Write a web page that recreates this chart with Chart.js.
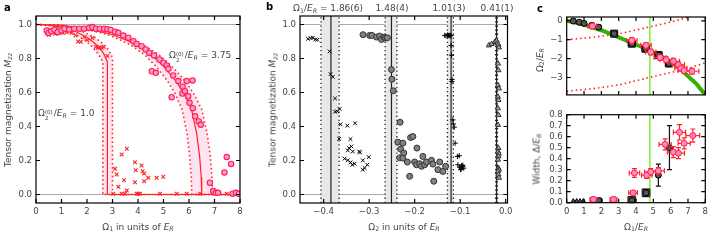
<!DOCTYPE html>
<html>
<head>
<meta charset="utf-8">
<script src="https://cdn.jsdelivr.net/npm/chart.js@4.4.1/dist/chart.umd.min.js"></script>
<style>
  body { margin: 0; background: #fff; }
  #wrap { position: relative; width: 720px; height: 240px; overflow: hidden; font-family: "DejaVu Sans"; color: #444; }
  canvas { position: absolute; }
  .t { position: absolute; white-space: nowrap; font-size: 9px; line-height: 1; }
  .rot { transform: translate(-50%, -50%) rotate(-90deg); }
  .ctr { transform: translate(-50%, -50%); }
  .ctrx { transform: translateX(-50%); }
  sub { font-size: 70%; vertical-align: -0.3em; line-height: 0; }
  .ss { display: inline-flex; flex-direction: column; font-size: 62%; line-height: 1.05; vertical-align: 0.4em; margin-right: 1px; }
  .lbl { position: absolute; font-weight: bold; color: #000; font-size: 10px; line-height: 1; }
</style>
</head>
<body>
<div id="wrap">
  <canvas id="ca" width="250" height="240" style="left:0;top:0"></canvas>
  <canvas id="cb" width="260" height="240" style="left:260px;top:0"></canvas>
  <canvas id="cc1" width="190" height="104" style="left:530px;top:0"></canvas>
  <canvas id="cc2" width="190" height="136" style="left:530px;top:104px"></canvas>

  <div class="lbl" style="left:4px;top:3px">a</div>
  <div class="lbl" style="left:266px;top:2px">b</div>
  <div class="lbl" style="left:537px;top:4px">c</div>

  <div class="t rot" style="left:8px;top:110px">Tensor magnetization <i>M</i><sub><i>zz</i></sub></div>
  <div class="t ctr" style="left:138px;top:227px">Ω<sub>1</sub> in units of <i>E</i><sub><i>R</i></sub></div>
  <div class="t" style="left:169px;top:51px">Ω<span class="ss"><span>(0)</span><span>2</span></span>/<i>E</i><sub><i>R</i></sub> = 3.75</div>
  <div class="t" style="left:38px;top:109px">Ω<span class="ss"><span>(0)</span><span>2</span></span>/<i>E</i><sub><i>R</i></sub> = 1.0</div>

  <div class="t rot" style="left:273px;top:110px">Tensor magnetization <i>M</i><sub><i>zz</i></sub></div>
  <div class="t ctr" style="left:404px;top:227px">Ω<sub>2</sub> in units of <i>E</i><sub><i>R</i></sub></div>
  <div class="t" style="left:293px;top:4px">Ω<sub>1</sub>/<i>E</i><sub><i>R</i></sub> = 1.86(6)</div>
  <div class="t ctrx" style="left:392px;top:4px">1.48(4)</div>
  <div class="t ctrx" style="left:449px;top:4px">1.01(3)</div>
  <div class="t ctrx" style="left:497px;top:4px">0.41(1)</div>

  <div class="t rot" style="left:540px;top:60px">Ω<sub>2</sub>/<i>E</i><sub><i>R</i></sub></div>
  <div class="t rot" style="left:537px;top:159px">Width, Δ/<i>E</i><sub><i>R</i></sub></div>
  <div class="t ctr" style="left:636px;top:227px">Ω<sub>1</sub>/<i>E</i><sub><i>R</i></sub></div>
</div>

<script>
// ---------- panel a : M_zz vs Omega1
const aCircX = [0.42,0.50,0.60,0.72,0.85,1.00,1.12,1.30,1.50,1.70,1.88,2.08,2.21,2.35,2.50,2.67,2.80,2.93,3.10,
  3.23,3.42,3.62,3.82,3.95,4.14,4.30,4.44,4.54,4.63,4.70,4.84,5.00,5.13,5.19,5.32,5.38,5.58,5.74,5.75,5.84,5.91,
  5.97,6.02,6.14,6.15,6.24,6.38,6.46,6.82,6.95,7.05,7.14,7.39,7.48,7.65,7.71,7.84,7.95];
const aCircY = [0.965,0.95,0.96,0.97,0.955,0.965,0.975,0.97,0.975,0.975,0.975,0.98,0.985,0.975,0.975,0.975,0.972,0.968,0.958,
  0.951,0.935,0.922,0.902,0.886,0.872,0.853,0.833,0.725,0.818,0.716,0.794,0.775,0.759,0.739,0.572,0.70,0.667,0.594,0.634,0.608,0.667,
  0.578,0.539,0.671,0.508,0.46,0.43,0.41,0.069,0.02,0.01,0.01,0.13,0.22,0.18,0.005,0.01,0.005];
const aCrossX = [0.42,0.50,0.62,0.75,0.90,1.05,1.20,1.40,1.55,1.65,1.76,1.90,2.02,2.21,2.35,2.42,2.50,2.58,2.65,2.80,
  3.03,3.10,3.16,3.23,3.36,3.36,3.45,3.49,3.56,3.56,3.88,3.91,3.88,3.95,4.01,4.08,4.14,4.18,4.24,4.24,4.40,4.73,
  4.86,4.99,5.52,5.91,6.43,7.48,7.74,7.87];
const aCrossY = [0.95,0.94,0.955,0.945,0.955,0.95,0.955,0.95,0.935,0.90,0.898,0.925,0.908,0.92,0.869,0.863,0.865,0.863,0.869,0.815,
  0.005,0.151,0.118,0.045,0.235,0.005,0.084,0.005,0.269,0.024,0.19,0.143,0.072,0.005,0.005,0.005,0.171,0.137,0.124,0.078,0.098,0.098,
  0.005,0.104,0.005,0.005,0.005,0.005,0.005,0.005];
const aFit375X = [0,1,2,3,3.5,4,4.5,5,5.5,5.8,6.1,6.3,6.42,6.48,6.5,8];
const aFit375Y = [1,0.995,0.975,0.94,0.91,0.875,0.825,0.755,0.665,0.595,0.5,0.36,0.22,0.1,0,0];
const aLo375X = [0,0.94,1.88,2.82,3.29,3.76,4.23,4.7,5.17,5.45,5.73,5.92,6.03,6.09,6.11,8];
const aHi375X = [0,1.07,2.13,3.2,3.73,4.26,4.79,5.33,5.86,6.18,6.5,6.71,6.84,6.9,6.92,8];
const aFit10X = [0,0.5,1,1.5,2,2.3,2.5,2.65,2.8,2.8,8];
const aFit10Y = [1,0.997,0.985,0.962,0.925,0.89,0.86,0.83,0.78,0,0];
const aLo10X = [0,0.5,1,1.5,1.9,2.2,2.45,2.62,2.62,8];
const aLo10Y = [1,0.993,0.975,0.945,0.91,0.87,0.825,0.78,0,0];
const aHi10X = [0,0.6,1.2,1.8,2.3,2.6,2.85,3.0,3.0,8];
const aHi10Y = [1,0.997,0.985,0.96,0.925,0.89,0.85,0.805,0,0];
const aXTicks = [0,1,2,3,4,5,6,7,8];
const mTicks = [0,0.2,0.4,0.6,0.8,1.0];
const mRange = [-0.05, 1.05];
const refLevels = [0, 1];

// ---------- panel b : M_zz vs Omega2
const bCrossX = [-0.4345,-0.4286,-0.4236,-0.4185,-0.414,-0.387,-0.385,-0.380,-0.375,-0.375,-0.370,-0.365,-0.363,-0.348,-0.331,
  -0.366,-0.341,-0.344,-0.339,-0.336,-0.347,-0.322,-0.320,-0.354,-0.347,-0.341,-0.337,-0.332,-0.314,-0.301,-0.314,-0.310,-0.304];
const bCrossY = [0.916,0.92,0.922,0.912,0.91,0.842,0.708,0.692,0.565,0.487,0.489,0.503,0.413,0.405,0.419,
  0.327,0.326,0.273,0.283,0.253,0.259,0.253,0.247,0.211,0.201,0.189,0.175,0.181,0.201,0.22,0.146,0.156,0.175];
const bCircX = [-0.3136,-0.299,-0.294,-0.284,-0.277,-0.273,-0.267,-0.264,-0.260,-0.251,-0.250,-0.247,-0.232,-0.237,-0.226,
  -0.231,-0.224,-0.233,-0.226,-0.216,-0.211,-0.209,-0.204,-0.195,-0.200,-0.196,-0.189,-0.185,-0.182,-0.178,-0.174,-0.163,
  -0.160,-0.158,-0.149,-0.145,-0.138,-0.132];
const bCircY = [0.94,0.936,0.936,0.926,0.932,0.912,0.926,0.92,0.922,0.735,0.678,0.61,0.425,0.308,0.302,
  0.267,0.244,0.216,0.214,0.191,0.107,0.335,0.341,0.273,0.191,0.175,0.181,0.166,0.224,0.175,0.191,0.201,
  0.179,0.078,0.146,0.191,0.136,0.166];
const bPlusX = [-0.134,-0.131,-0.128,-0.126,-0.124,-0.122,-0.120,-0.120,-0.119,-0.118,-0.118,-0.116,-0.115,-0.113,-0.111,
  -0.106,-0.102,-0.105,-0.101,-0.098,-0.095,-0.097,-0.092,-0.099,-0.094];
const bPlusY = [0.936,0.934,0.938,0.935,0.937,0.933,0.936,0.877,0.819,0.676,0.664,0.439,0.415,0.396,0.302,
  0.224,0.228,0.175,0.16,0.15,0.165,0.17,0.155,0.146,0.172];
const bTriX = [-0.037,-0.031,-0.024,-0.020,-0.018,-0.016,-0.015,-0.017,-0.016,-0.017,-0.015,-0.017,-0.016,-0.017,-0.016,
  -0.017,-0.016,-0.017,-0.015,-0.016,-0.017,-0.016,-0.015,-0.017,-0.016,-0.015];
const bTriY = [0.877,0.885,0.897,0.905,0.89,0.88,0.865,0.77,0.731,0.643,0.624,0.575,0.556,0.507,0.468,
  0.409,0.273,0.253,0.24,0.224,0.205,0.156,0.146,0.136,0.117,0.098];
const bCrit = [-0.384, -0.251, -0.120, -0.020];
const bCritLo = [-0.406, -0.265, -0.128, -0.022];
const bCritHi = [-0.366, -0.239, -0.115, -0.018];
const bXTicks = [-0.4,-0.3,-0.2,-0.1,0];
const bRange = [-0.452, 0.004];

// ---------- panel c : critical Omega2 and width vs Omega1
const cRange = [0, 8];
const cTopRange = [-3.92, 0.2];
const cTopTicks = [0,-1,-2,-3];
const cBotRange = [0, 0.8];
const cBotTicks = [0,0.1,0.2,0.3,0.4,0.5,0.6,0.7,0.8];
const cTheoX = [0,1,2,2.7,3.5,4.62,5.3,5.97,6.5,6.93,7.5,8];
const cTheoY = [0,-0.2,-0.5,-0.76,-1.07,-1.49,-1.8,-2.14,-2.5,-2.87,-3.35,-3.92];
const cUpX = [0,1.54,3.08,4.62,5.78,6.93,7.5];
const cUpY = [-1.0,-0.87,-0.68,-0.36,-0.12,0.16,0.33];
const cLowX = [0,1.54,3.08,4.62,5.78,6.93,8];
const cLowY = [-3.72,-3.59,-3.38,-3.03,-2.78,-2.54,-2.22];
const cTrans = 4.8;
const cTopBlkX = [0.38,0.73,1.0,1.45,1.85,2.74,3.76,4.55,5.3,5.9];
const cTopBlkY = [-0.01,-0.08,-0.14,-0.24,-0.34,-0.68,-1.21,-1.48,-1.81,-2.26];
const cTopBlkXe = [0.1,0.1,0.1,0.12,0.12,0.15,0.2,0.2,0.2,0.2];
const cTopBlkYe = [0.08,0.08,0.08,0.1,0.1,0.1,0.12,0.12,0.12,0.15];
const cTopRedX = [1.48,3.76,4.58,4.85,5.39,5.74,6.16,6.45,6.59,6.78,7.23];
const cTopRedY = [-0.28,-1.04,-1.3,-1.65,-1.94,-2.06,-2.14,-2.33,-2.51,-2.63,-2.67];
const cTopRedXe = [0.25,0.3,0.3,0.3,0.35,0.35,0.35,0.35,0.35,0.35,0.4];
const cTopRedYe = [0.15,0.15,0.15,0.15,0.15,0.15,0.15,0.15,0.15,0.15,0.15];
const cBotTriX = [0.38,0.58,0.77,0.96];
const cBotTriY = [0.01,0.01,0.01,0.01];
const cBotBlkX = [1.54,1.89,2.7,3.76,4.58,5.29,5.93];
const cBotBlkY = [0.02,0.02,0.02,0.02,0.09,0.25,0.5];
const cBotBlkXe = [0.1,0.1,0.1,0.1,0.1,0.1,0.1];
const cBotBlkYe = [0.01,0.01,0.01,0.02,0.03,0.1,0.2];
const cBotRedX = [1.54,2.7,3.83,3.91,4.62,4.85,5.29,5.68,6.16,6.45,6.51,6.78,7.28];
const cBotRedY = [0.03,0.03,0.09,0.27,0.25,0.28,0.29,0.53,0.46,0.45,0.64,0.54,0.61];
const cBotRedXe = [0.2,0.2,0.25,0.3,0.3,0.35,0.35,0.35,0.35,0.35,0.35,0.35,0.4];
const cBotRedYe = [0.02,0.02,0.02,0.04,0.03,0.03,0.03,0.05,0.05,0.05,0.07,0.05,0.06];

const FONT = 'DejaVu Sans';
const RED = '#ff2424';

const pts = (xs, ys) => xs.map((x, i) => ({x, y: ys[i]}));
const vline = (v, r) => [{x: v, y: r[0]}, {x: v, y: r[1]}];
const hline = (v, r) => [{x: r[0], y: v}, {x: r[1], y: v}];

function line(data, color, width, dash) {
  return {data, showLine: true, borderColor: color, borderWidth: width, borderDash: dash || [],
    pointRadius: 0, fill: false, tension: 0, clip: 0};
}
function area(data, color) {
  return {data, showLine: true, borderColor: 'rgba(0,0,0,0)', borderWidth: 0, backgroundColor: color,
    pointRadius: 0, fill: 'shape', tension: 0, clip: 0};
}
function marks(data, style, r, fill, edge, bw) {
  return {data, showLine: false, pointStyle: style, pointRadius: r, pointBackgroundColor: fill,
    pointBorderColor: edge, pointBorderWidth: bw};
}

function axis(range, ticks, fmt, size, labels) {
  return {
    type: 'linear', min: range[0], max: range[1],
    grid: {display: false, drawTicks: false},
    border: {display: false},
    ticks: {display: labels, font: {family: FONT, size: 8.5}, color: '#444', padding: 4,
      autoSkip: false, maxRotation: 0, callback: fmt},
    afterBuildTicks: s => { s.ticks = ticks.map(v => ({value: v})); },
    afterFit: s => { if (s.isHorizontal()) s.height = size; else s.width = size; }
  };
}

const minus = v => (v < 0 ? '\u2212' : '');
const fmt0 = v => minus(v) + Math.abs(v).toFixed(0);
const fmt1 = v => minus(v) + Math.abs(v).toFixed(1);

// black frame with inward ticks on all four sides
const frame = {
  id: 'frame',
  afterDraw(chart) {
    const {ctx, chartArea: {left, right, top, bottom}, scales: {x, y}} = chart;
    ctx.save();
    ctx.strokeStyle = '#000';
    ctx.lineWidth = 1.2;
    ctx.strokeRect(left, top, right - left, bottom - top);
    ctx.beginPath();
    x.ticks.forEach(t => {
      const p = x.getPixelForValue(t.value);
      ctx.moveTo(p, bottom); ctx.lineTo(p, bottom - 4);
      ctx.moveTo(p, top); ctx.lineTo(p, top + 4);
    });
    y.ticks.forEach(t => {
      const p = y.getPixelForValue(t.value);
      ctx.moveTo(left, p); ctx.lineTo(left + 4, p);
      ctx.moveTo(right, p); ctx.lineTo(right - 4, p);
    });
    ctx.stroke();
    ctx.restore();
  }
};

// error bars for datasets that carry errX / errY
const errorBars = {
  id: 'errorBars',
  beforeDatasetDraw(chart, args) {
    const ds = chart.data.datasets[args.index];
    if (!ds.errX) return;
    const {ctx, scales: {x, y}} = chart;
    ctx.save();
    ctx.strokeStyle = ds.errColor;
    ctx.lineWidth = 1.2;
    ctx.beginPath();
    ds.data.forEach((p, i) => {
      const px = x.getPixelForValue(p.x), py = y.getPixelForValue(p.y);
      const x0 = x.getPixelForValue(p.x - ds.errX[i]), x1 = x.getPixelForValue(p.x + ds.errX[i]);
      const y0 = y.getPixelForValue(p.y - ds.errY[i]), y1 = y.getPixelForValue(p.y + ds.errY[i]);
      ctx.moveTo(x0, py); ctx.lineTo(x1, py);
      ctx.moveTo(px, y0); ctx.lineTo(px, y1);
      ctx.moveTo(x0, py - 2.5); ctx.lineTo(x0, py + 2.5);
      ctx.moveTo(x1, py - 2.5); ctx.lineTo(x1, py + 2.5);
      ctx.moveTo(px - 2.5, y0); ctx.lineTo(px + 2.5, y0);
      ctx.moveTo(px - 2.5, y1); ctx.lineTo(px + 2.5, y1);
    });
    ctx.stroke();
    ctx.restore();
  }
};

function options(padding, xAx, yAx) {
  return {
    responsive: false, animation: false, devicePixelRatio: 1,
    layout: {padding},
    plugins: {legend: {display: false}, tooltip: {enabled: false}},
    scales: {x: xAx, y: yAx}
  };
}

// ---- a
const band375 = pts(aHi375X.slice(0, 15), aFit375Y.slice(0, 15))
  .concat(pts(aLo375X.slice(0, 15), aFit375Y.slice(0, 15)).reverse());
const band10 = pts(aHi10X.slice(0, 9), aHi10Y.slice(0, 9))
  .concat(pts(aLo10X.slice(0, 9), aLo10Y.slice(0, 9)).reverse());

new Chart(document.getElementById('ca'), {
  type: 'scatter',
  data: {datasets: [
    marks(pts(aCircX, aCircY), 'circle', 2.7, '#ff9ad0', '#ff1f4f', 1.1),
    marks(pts(aCrossX, aCrossY), 'crossRot', 2.6, RED, RED, 1.1),
    line(pts(aFit375X, aFit375Y), RED, 1.2),
    line(pts(aFit10X, aFit10Y), RED, 1.2),
    line(pts(aLo375X, aFit375Y), RED, 1.6, [1.5, 2.8]),
    line(pts(aHi375X, aFit375Y), RED, 1.6, [1.5, 2.8]),
    line(pts(aLo10X, aLo10Y), RED, 1.6, [1.5, 2.8]),
    line(pts(aHi10X, aHi10Y), RED, 1.6, [1.5, 2.8]),
    area(band375, 'rgba(255,60,150,0.14)'),
    area(band10, 'rgba(255,60,150,0.14)'),
    ...refLevels.map(v => line(hline(v, [0, 8]), '#aaa', 1.2))
  ]},
  options: options({top: 16, right: 10, left: 0, bottom: 0},
    axis([0, 8], aXTicks, v => String(v), 37, true),
    axis(mRange, mTicks, fmt1, 36, true)),
  plugins: [frame]
});

// ---- b
const bSets = [
  marks(pts(bCrossX, bCrossY), 'crossRot', 2.6, '#000', '#000', 1),
  marks(pts(bCircX, bCircY), 'circle', 3, '#808080', '#333', 1),
  marks(pts(bPlusX, bPlusY), 'cross', 2.6, '#000', '#000', 1),
  marks(pts(bTriX, bTriY), 'triangle', 3, '#aaa', '#333', 1)
];
bCrit.forEach(v => bSets.push(line(vline(v, mRange), '#222', 1.2)));
bCritLo.forEach(v => bSets.push(line(vline(v, mRange), '#222', 1.3, [1.3, 2.8])));
bCritHi.forEach(v => bSets.push(line(vline(v, mRange), '#222', 1.3, [1.3, 2.8])));
bCritLo.forEach((v, i) => bSets.push(area(
  pts([v, v, bCritHi[i], bCritHi[i]], [mRange[0], mRange[1], mRange[1], mRange[0]]), '#e8e8e8')));
refLevels.forEach(v => bSets.push(line(hline(v, bRange), '#aaa', 1.2)));

new Chart(document.getElementById('cb'), {
  type: 'scatter',
  data: {datasets: bSets},
  options: options({top: 16, right: 12.5, left: 0, bottom: 0},
    axis(bRange, bXTicks, fmt1, 37, true),
    axis(mRange, mTicks, fmt1, 40, true)),
  plugins: [frame]
});

// ---- c top
const cTopBlk = marks(pts(cTopBlkX, cTopBlkY), 'circle', 3, '#555', '#000', 1);
cTopBlk.errX = cTopBlkXe; cTopBlk.errY = cTopBlkYe; cTopBlk.errColor = '#111';
const cTopRed = marks(pts(cTopRedX, cTopRedY), 'circle', 3, '#ff88c8', '#ff2040', 1);
cTopRed.errX = cTopRedXe; cTopRed.errY = cTopRedYe; cTopRed.errColor = RED;

new Chart(document.getElementById('cc1'), {
  type: 'scatter',
  data: {datasets: [
    cTopRed,
    cTopBlk,
    marks(pts(cTopBlkX.slice(5), cTopBlkY.slice(5)), 'rect', 5, '#777', '#111', 1),
    line(pts(cTheoX, cTheoY), '#38b000', 4),
    line(vline(cTrans, cTopRange), '#77ee22', 1.4),
    line(pts(cUpX, cUpY), RED, 1.6, [1.5, 3]),
    line(pts(cLowX, cLowY), RED, 1.6, [1.5, 3])
  ]},
  options: options({top: 17, right: 14.7, left: 0, bottom: 0},
    axis(cRange, aXTicks, v => String(v), 2, false),
    axis(cTopRange, cTopTicks, fmt0, 36.7, true)),
  plugins: [errorBars, frame]
});

// ---- c bottom
const cBotBlk = marks(pts(cBotBlkX, cBotBlkY), 'circle', 3, '#555', '#000', 1);
cBotBlk.errX = cBotBlkXe; cBotBlk.errY = cBotBlkYe; cBotBlk.errColor = '#111';
const cBotRed = marks(pts(cBotRedX, cBotRedY), 'circle', 3, '#ff88c8', '#ff2040', 1);
cBotRed.errX = cBotRedXe; cBotRed.errY = cBotRedYe; cBotRed.errColor = RED;

new Chart(document.getElementById('cc2'), {
  type: 'scatter',
  data: {datasets: [
    cBotRed,
    cBotBlk,
    marks(pts(cBotTriX, cBotTriY), 'triangle', 3, '#555', '#000', 1),
    marks(pts(cBotBlkX.slice(3, 5), cBotBlkY.slice(3, 5)), 'rect', 5.5, '#777', '#111', 1),
    line(vline(cTrans, cBotRange), '#77ee22', 1.4)
  ]},
  options: options({top: 10.7, right: 14.7, left: 0, bottom: 0},
    axis(cRange, aXTicks, v => String(v), 37.3, true),
    axis(cBotRange, cBotTicks, fmt1, 36.7, true)),
  plugins: [errorBars, frame]
});
</script>
</body>
</html>
